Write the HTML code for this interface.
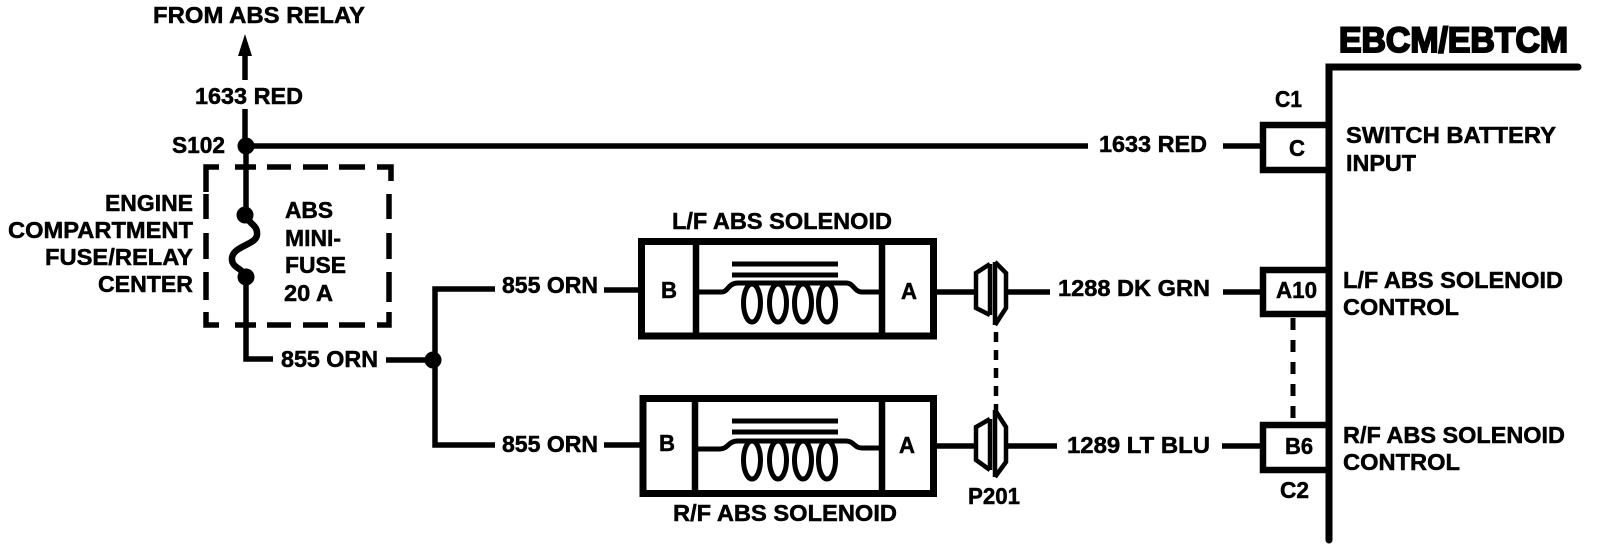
<!DOCTYPE html>
<html><head><meta charset="utf-8"><style>
html,body{margin:0;padding:0;background:#fff;width:1600px;height:550px;overflow:hidden}
svg{display:block}
text{font-family:"Liberation Sans",sans-serif;font-weight:bold;font-size:23px;fill:#000;stroke:#000;stroke-width:.5px}
</style></head><body>
<svg width="1600" height="550" viewBox="0 0 1600 550" xmlns="http://www.w3.org/2000/svg">
<g fill="none" stroke="#000" stroke-width="5.5">
<!-- left feed -->
<path d="M245 52V80M245 109V146" />
<polygon points="245,34 238,56 252,56" fill="#000" stroke="none"/>
<circle cx="246" cy="146" r="7" fill="#000" stroke="#000" stroke-width="3"/>
<path d="M246 146H1088"/>
<path d="M246 146V215"/>
<circle cx="245" cy="215" r="7.5" fill="#000" stroke="#000" stroke-width="2"/>
<circle cx="246" cy="277" r="7.5" fill="#000" stroke="#000" stroke-width="2"/>
<path d="M245 215C250 225 258 225 257 235C256 245 233 246 232 258C231 268 243 268 246 277" stroke-width="6.5"/>
<path d="M246 277V359H273M386 360H433"/>
<path d="M206 192V167H219M235 167H256M267 167H291M303 167H328M339 167H365M377 167H391V181M389 194V219M389 233V259M389 272V302M389 312V325H377M365 325H339M328 325H303M291 325H267M256 325H235M219 325H206V312M206 300V272M206 259V233M206 219V194"/>
<circle cx="433" cy="360" r="7.5" fill="#000" stroke="#000" stroke-width="2"/>
<path d="M495 289H435V445H495M604 290H640M604 445H640"/>
<!-- solenoid top -->
<rect x="641.5" y="241.5" width="292" height="94.5" stroke-width="7"/>
<path d="M696 242V336M882 242V336" stroke-width="6.5"/>
<path d="M732 264H838M732 275H838" stroke-width="5"/>
<path d="M696 292H722C728 292 728 283 738 283H846C854 283 854 292 862 292H882" stroke-width="5"/>
<ellipse cx="752" cy="303" rx="8.5" ry="19" stroke-width="5"/><ellipse cx="778" cy="303" rx="8.5" ry="19" stroke-width="5"/><ellipse cx="803" cy="303" rx="8.5" ry="19" stroke-width="5"/><ellipse cx="827" cy="303" rx="8.5" ry="19" stroke-width="5"/>
<!-- solenoid bottom -->
<rect x="643" y="398.5" width="290.5" height="95" stroke-width="7"/>
<path d="M695 399V493M882 399V493" stroke-width="6.5"/>
<path d="M732 421H838M732 432H838" stroke-width="5"/>
<path d="M696 449H720C728 449 728 441 738 441H846C854 441 854 448 862 448H882" stroke-width="5"/>
<ellipse cx="752" cy="460" rx="8.5" ry="19" stroke-width="5"/><ellipse cx="778" cy="460" rx="8.5" ry="19" stroke-width="5"/><ellipse cx="803" cy="460" rx="8.5" ry="19" stroke-width="5"/><ellipse cx="827" cy="460" rx="8.5" ry="19" stroke-width="5"/>
<!-- P201 -->
<path d="M937 292H976M1006 292H1050M937 446H976M1006 446H1057"/>
<path d="M990 264L976 273V308L990 315M995 262L1006 273V308L995 325" stroke-width="4.5"/>
<path d="M995 262V325M990 264V315" stroke-width="4.5"/>
<path d="M990 419L976 427V460L990 470M995 410L1006 427V462L995 477" stroke-width="4.5"/>
<path d="M995 410V477M990 419V470" stroke-width="4.5"/>
<path d="M996 332V415" stroke-dasharray="10 8" stroke-width="4.5"/>
<!-- module -->
<path d="M1329 540V67H1578" stroke-width="7" stroke-linecap="round"/>
<path d="M1329 125H1263V170H1329M1329 270H1263V314H1329M1329 425H1263V470H1329" stroke-width="6.5"/>
<path d="M1223 146H1261M1223 292H1261M1222 446H1261"/>
<path d="M1293 318V422" stroke-dasharray="12 10" stroke-width="5"/>
</g>
<g>
<text x="153" y="23" textLength="212" lengthAdjust="spacingAndGlyphs">FROM ABS RELAY</text>
<text x="195" y="104" textLength="108" lengthAdjust="spacingAndGlyphs">1633 RED</text>
<text x="172" y="153" textLength="53" lengthAdjust="spacingAndGlyphs">S102</text>
<text x="105" y="211" textLength="88" lengthAdjust="spacingAndGlyphs">ENGINE</text>
<text x="8" y="238" textLength="185" lengthAdjust="spacingAndGlyphs">COMPARTMENT</text>
<text x="45" y="265" textLength="148" lengthAdjust="spacingAndGlyphs">FUSE/RELAY</text>
<text x="98" y="292" textLength="95" lengthAdjust="spacingAndGlyphs">CENTER</text>
<text x="285" y="218" textLength="48" lengthAdjust="spacingAndGlyphs">ABS</text>
<text x="285" y="246" textLength="56" lengthAdjust="spacingAndGlyphs">MINI-</text>
<text x="285" y="273" textLength="61" lengthAdjust="spacingAndGlyphs">FUSE</text>
<text x="284" y="301" textLength="49" lengthAdjust="spacingAndGlyphs">20 A</text>
<text x="281" y="367" textLength="97" lengthAdjust="spacingAndGlyphs">855 ORN</text>
<text x="502" y="293" textLength="96" lengthAdjust="spacingAndGlyphs">855 ORN</text>
<text x="502" y="452" textLength="96" lengthAdjust="spacingAndGlyphs">855 ORN</text>
<text x="672" y="229" textLength="220" lengthAdjust="spacingAndGlyphs">L/F ABS SOLENOID</text>
<text x="673" y="521" textLength="224" lengthAdjust="spacingAndGlyphs">R/F ABS SOLENOID</text>
<text x="661" y="298" textLength="16" lengthAdjust="spacingAndGlyphs">B</text>
<text x="901" y="299" textLength="16" lengthAdjust="spacingAndGlyphs">A</text>
<text x="659" y="451" textLength="16" lengthAdjust="spacingAndGlyphs">B</text>
<text x="899" y="453" textLength="16" lengthAdjust="spacingAndGlyphs">A</text>
<text x="968" y="504" textLength="52" lengthAdjust="spacingAndGlyphs">P201</text>
<text x="1099" y="152" textLength="108" lengthAdjust="spacingAndGlyphs">1633 RED</text>
<text x="1058" y="296" textLength="152" lengthAdjust="spacingAndGlyphs">1288 DK GRN</text>
<text x="1067" y="453" textLength="143" lengthAdjust="spacingAndGlyphs">1289 LT BLU</text>
<text x="1275" y="107" textLength="27" lengthAdjust="spacingAndGlyphs">C1</text>
<text x="1289" y="156" textLength="16" lengthAdjust="spacingAndGlyphs">C</text>
<text x="1276" y="298" textLength="41" lengthAdjust="spacingAndGlyphs">A10</text>
<text x="1285" y="454" textLength="28" lengthAdjust="spacingAndGlyphs">B6</text>
<text x="1280" y="498" textLength="29" lengthAdjust="spacingAndGlyphs">C2</text>
<text x="1346" y="143" textLength="210" lengthAdjust="spacingAndGlyphs">SWITCH BATTERY</text>
<text x="1346" y="171" textLength="70" lengthAdjust="spacingAndGlyphs">INPUT</text>
<text x="1343" y="288" textLength="220" lengthAdjust="spacingAndGlyphs">L/F ABS SOLENOID</text>
<text x="1343" y="315" textLength="116" lengthAdjust="spacingAndGlyphs">CONTROL</text>
<text x="1343" y="443" textLength="222" lengthAdjust="spacingAndGlyphs">R/F ABS SOLENOID</text>
<text x="1343" y="470" textLength="117" lengthAdjust="spacingAndGlyphs">CONTROL</text>
<text x="1339" y="52" textLength="229" lengthAdjust="spacingAndGlyphs" style="font-size:35px;stroke-width:2px">EBCM/EBTCM</text>
</g>
</svg>
</body></html>
